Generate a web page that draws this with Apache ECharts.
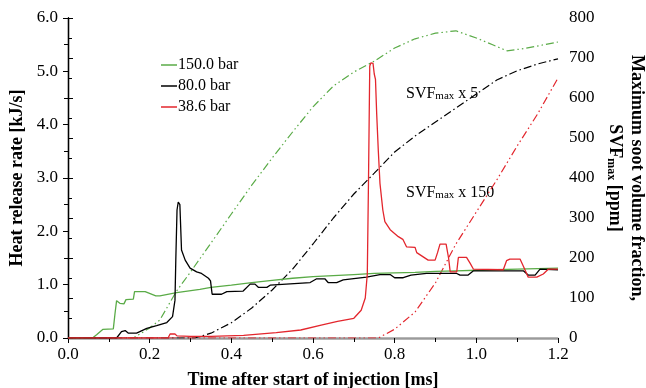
<!DOCTYPE html>
<html>
<head>
<meta charset="utf-8">
<script src="https://cdn.jsdelivr.net/npm/echarts@6/dist/echarts.min.js"></script>
<style>
  html, body { margin: 0; padding: 0; background: #fff; }
  #chart { width: 646px; height: 388px; }
</style>
</head>
<body>
<div id="chart"></div>
<script>
// Heat release rate [kJ/s] per injection pressure (time in ms)
const hrr150T = [0, 0.06, 0.07, 0.085, 0.111, 0.115, 0.119, 0.127, 0.137, 0.142, 0.16, 0.163, 0.189, 0.215, 0.225, 0.266, 0.323, 0.35, 0.4, 0.45, 0.5, 0.55, 0.6, 0.65, 0.7, 0.75, 0.8, 0.85, 0.9, 0.95, 1.0, 1.05, 1.1, 1.15, 1.2];
const hrr150  = [0, 0, 0.06, 0.16, 0.17, 0.45, 0.70, 0.65, 0.64, 0.72, 0.73, 0.87, 0.87, 0.79, 0.79, 0.85, 0.91, 0.95, 0.99, 1.04, 1.08, 1.12, 1.15, 1.17, 1.19, 1.21, 1.22, 1.23, 1.25, 1.26, 1.27, 1.28, 1.29, 1.30, 1.31];

const hrr80T = [0, 0.119, 0.131, 0.14, 0.148, 0.168, 0.193, 0.217, 0.242, 0.256, 0.262, 0.264, 0.267, 0.27, 0.274, 0.278, 0.287, 0.299, 0.315, 0.327, 0.344, 0.349, 0.353, 0.376, 0.389, 0.429, 0.446, 0.458, 0.466, 0.487, 0.495, 0.593, 0.609, 0.629, 0.637, 0.658, 0.674, 0.731, 0.764, 0.789, 0.8, 0.821, 0.84, 0.878, 0.952, 0.96, 0.98, 0.993, 1.115, 1.127, 1.144, 1.156, 1.2];
const hrr80  = [0, 0, 0.12, 0.14, 0.09, 0.09, 0.18, 0.23, 0.29, 0.40, 0.71, 1.46, 2.40, 2.55, 2.50, 1.65, 1.46, 1.31, 1.24, 1.21, 1.12, 1.07, 0.82, 0.82, 0.87, 0.88, 1.01, 1.01, 0.95, 0.95, 0.99, 1.04, 1.11, 1.11, 1.04, 1.04, 1.09, 1.14, 1.19, 1.19, 1.13, 1.13, 1.18, 1.21, 1.21, 1.18, 1.18, 1.26, 1.26, 1.18, 1.18, 1.29, 1.28];

const hrr386T = [0, 0.245, 0.25, 0.262, 0.267, 0.3, 0.35, 0.43, 0.51, 0.57, 0.62, 0.66, 0.7, 0.718, 0.728, 0.733, 0.736, 0.739, 0.742, 0.747, 0.75, 0.753, 0.756, 0.76, 0.764, 0.771, 0.776, 0.789, 0.809, 0.82, 0.829, 0.85, 0.854, 0.882, 0.899, 0.905, 0.911, 0.926, 0.932, 0.936, 0.952, 0.956, 0.976, 0.985, 0.993, 1.066, 1.074, 1.082, 1.107, 1.118, 1.127, 1.148, 1.164, 1.176, 1.2];
const hrr386  = [0, 0, 0.075, 0.075, 0.04, 0.03, 0.03, 0.05, 0.10, 0.15, 0.24, 0.31, 0.37, 0.52, 0.75, 1.2, 3.0, 5.1, 5.16, 5.15, 4.95, 4.85, 4.2, 3.5, 2.9, 2.4, 2.18, 2.03, 1.9, 1.85, 1.71, 1.70, 1.60, 1.46, 1.46, 1.60, 1.76, 1.76, 1.50, 1.24, 1.24, 1.51, 1.51, 1.40, 1.29, 1.28, 1.45, 1.48, 1.48, 1.30, 1.14, 1.14, 1.20, 1.29, 1.29];

// Maximum soot volume fraction [ppm] (scaled)
const svf150T = [0, 0.16, 0.2, 0.225, 0.265, 0.3, 0.35, 0.4, 0.45, 0.5, 0.55, 0.6, 0.65, 0.7, 0.75, 0.8, 0.85, 0.9, 0.95, 1.0, 1.04, 1.075, 1.12, 1.2];
const svf150  = [0, 0, 25, 45, 116, 165, 237, 310, 382, 450, 515, 578, 630, 665, 692, 725, 748, 762, 768, 750, 733, 718, 724, 740];

const svf80T = [0, 0.31, 0.35, 0.4, 0.45, 0.5, 0.55, 0.6, 0.65, 0.7, 0.75, 0.8, 0.85, 0.9, 0.95, 1.0, 1.05, 1.1, 1.15, 1.2];
const svf80  = [0, 0, 12, 38, 75, 120, 172, 235, 300, 360, 412, 465, 505, 540, 575, 610, 645, 668, 685, 698];

const svf386T = [0, 0.76, 0.8, 0.85, 0.9, 0.95, 1.0, 1.05, 1.1, 1.15, 1.2];
const svf386  = [0, 0, 22, 65, 138, 235, 315, 395, 480, 560, 650];

const seriesNames = ['150.0 bar', '80.0 bar', '38.6 bar'];
const colors = ['#5aab47', '#000000', '#e3262d'];

const pairs = (t, v) => t.map((x, i) => [x, v[i]]);
const serif = 'Liberation Serif, Times New Roman, serif';

const chart = echarts.init(document.getElementById('chart'));

const hrrSeries = [[hrr150T, hrr150], [hrr80T, hrr80], [hrr386T, hrr386]].map((d, i) => ({
  name: seriesNames[i],
  type: 'line',
  data: pairs(d[0], d[1]),
  symbol: 'none',
  z: 3,
  lineStyle: { color: colors[i], width: 1.3 },
  itemStyle: { color: colors[i] }
}));

const dashPatterns = [[8, 3, 1.5, 3, 1.5, 3], [8, 3, 1.5, 3], [8, 3, 1.5, 3, 1.5, 3]];
const svfSeries = [[svf150T, svf150], [svf80T, svf80], [svf386T, svf386]].map((d, i) => ({
  name: 'SVF ' + seriesNames[i],
  type: 'line',
  yAxisIndex: 1,
  data: pairs(d[0], d[1]),
  symbol: 'none',
  z: 2,
  lineStyle: { color: colors[i], width: 1.2, type: dashPatterns[i] }
}));

const subRich = {
  a: { fontFamily: serif, fontSize: 16, color: '#000', verticalAlign: 'bottom', lineHeight: 18 },
  s: { fontFamily: serif, fontSize: 11, color: '#000', verticalAlign: 'bottom', lineHeight: 14 }
};

chart.setOption({
  animation: false,
  backgroundColor: '#fff',
  grid: { left: 68, right: 88, top: 18, bottom: 50, outerBoundsMode: 'none', containLabel: false },
  legend: {
    data: seriesNames,
    orient: 'vertical',
    left: 156,
    top: 52,
    icon: 'rect',
    itemWidth: 16,
    itemHeight: 1.5,
    itemGap: 5,
    textStyle: { fontFamily: serif, fontSize: 16, color: '#000', padding: [0, 0, 0, -4] }
  },
  xAxis: [{
    type: 'value',
    min: 0, max: 1.2, interval: 0.2,
    name: 'Time after start of injection [ms]',
    nameLocation: 'middle',
    nameGap: 33,
    nameTextStyle: { fontFamily: serif, fontSize: 18, fontWeight: 'bold', color: '#000' },
    axisLine: { lineStyle: { color: '#000', width: 1.3 } },
    axisTick: { show: true, length: 5, lineStyle: { color: '#000' } },
    minorTick: { show: true, splitNumber: 2, length: 4, lineStyle: { color: '#000' } },
    axisLabel: { fontFamily: serif, fontSize: 17, color: '#000', margin: 8, formatter: v => v.toFixed(1) },
    splitLine: { show: false }
  }, {
    type: 'value',
    position: 'top',
    min: 0, max: 1.2,
    axisLine: { show: true, lineStyle: { color: '#9a9a9a', width: 1.3 } },
    axisTick: { show: false },
    axisLabel: { show: false },
    splitLine: { show: false }
  }],
  yAxis: [{
    type: 'value',
    min: 0, max: 6, interval: 1,
    name: 'Heat release rate [kJ/s]',
    nameLocation: 'middle',
    nameGap: 41,
    nameTextStyle: { fontFamily: serif, fontSize: 18, fontWeight: 'bold', color: '#000' },
    axisLine: { show: true, lineStyle: { color: '#000', width: 1.3 } },
    axisTick: { show: true, length: 5, lineStyle: { color: '#000' } },
    minorTick: { show: true, splitNumber: 2, length: 4, lineStyle: { color: '#000' } },
    axisLabel: { fontFamily: serif, fontSize: 17, color: '#000', margin: 10, formatter: v => v.toFixed(1) },
    splitLine: { show: false }
  }, {
    type: 'value',
    position: 'right',
    min: 0, max: 800, interval: 100,
    name: '{t|Maximum soot volume fraction,}\n{t|SVF}{u|max}{t| [ppm]}',
    nameLocation: 'middle',
    nameGap: 43,
    nameRotate: -90,
    nameTextStyle: {
      rich: {
        t: { fontFamily: serif, fontSize: 18, fontWeight: 'bold', color: '#000', verticalAlign: 'bottom', lineHeight: 22 },
        u: { fontFamily: serif, fontSize: 12, fontWeight: 'bold', color: '#000', verticalAlign: 'bottom', lineHeight: 18 }
      }
    },
    axisLine: { show: true, lineStyle: { color: '#000', width: 1.3 } },
    axisTick: { show: true, length: 5, lineStyle: { color: '#000' } },
    minorTick: { show: true, splitNumber: 2, length: 4, lineStyle: { color: '#000' } },
    axisLabel: { fontFamily: serif, fontSize: 17, color: '#000', margin: 11 },
    splitLine: { show: false }
  }],
  graphic: [{
    type: 'text', left: 406, top: 86,
    style: { text: '{a|SVF}{s|max}{a| x 5}', rich: subRich }
  }, {
    type: 'text', left: 406, top: 185,
    style: { text: '{a|SVF}{s|max}{a| x 150}', rich: subRich }
  }],
  series: svfSeries.concat(hrrSeries)
});
</script>
</body>
</html>
